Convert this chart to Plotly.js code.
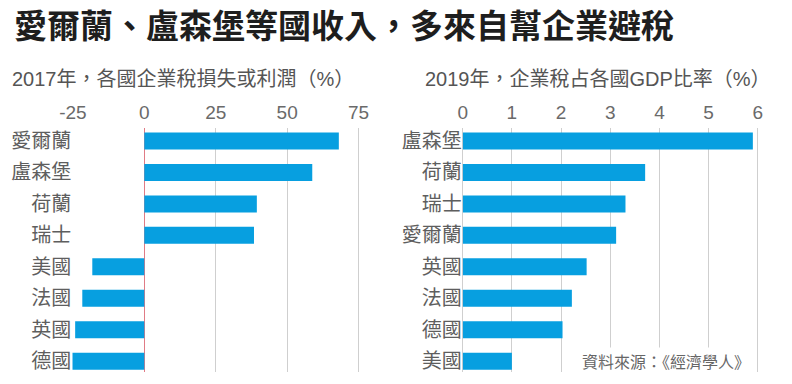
<!DOCTYPE html>
<html>
<head>
<meta charset="utf-8">
<script src="https://cdn.plot.ly/plotly-3.0.1.min.js"></script>
<style>html,body{margin:0;padding:0;background:#fff;}#chart{width:792px;height:384px;}</style>
</head>
<body>
<div id="chart"></div>
<script>
const leftCategories = ['愛爾蘭','盧森堡','荷蘭','瑞士','美國','法國','英國','德國'];
const leftValues = [68.1, 58.8, 39.4, 38.4, -18.2, -21.7, -24.2, -25.2];
const leftTicks = [-25, 0, 25, 50, 75];

const rightCategories = ['盧森堡','荷蘭','瑞士','愛爾蘭','英國','法國','德國','美國'];
const rightValues = [5.9, 3.71, 3.31, 3.12, 2.52, 2.22, 2.03, 1.0];
const rightTicks = [0, 1, 2, 3, 4, 5, 6];

const mainTitle = '愛爾蘭、盧森堡等國收入，多來自幫企業避稅';
const leftSubtitle = '2017年，各國企業稅損失或利潤（%）';
const rightSubtitle = '2019年，企業稅占各國GDP比率（%）';
const sourceNote = '資料來源：《經濟學人》';

const FONT = '"Noto Sans CJK TC", "Noto Sans", sans-serif';
const MIX = '"Liberation Sans", "Noto Sans CJK TC", sans-serif';
const BAR = '#079fe0';
const W = 792, H = 384;
const yDom = [1 - 372 / H, 1 - 128 / H];

const traces = [
  {type:'bar', orientation:'h', x:leftValues, y:leftCategories, xaxis:'x', yaxis:'y',
   marker:{color:BAR}, width:0.54, hoverinfo:'none'},
  {type:'bar', orientation:'h', x:rightValues, y:rightCategories, xaxis:'x2', yaxis:'y2',
   marker:{color:BAR}, width:0.54, hoverinfo:'none'}
];

const xCommon = {side:'top', showline:false, ticks:'', gridcolor:'#cfcfcf', gridwidth:1,
  tickfont:{family:MIX, size:19, color:'#6a6a6a'}, ticklabelstandoff:4, fixedrange:true};
const yCommon = {type:'category', showgrid:false, showline:false, ticks:'', zeroline:false,
  tickfont:{family:FONT, size:20, color:'#5e5e5e'}, domain:yDom, range:[7.34, -0.41], fixedrange:true};

const layout = {
  width:W, height:H, margin:{l:0, r:0, t:0, b:0},
  paper_bgcolor:'#fff', plot_bgcolor:'rgba(0,0,0,0)', showlegend:false,
  xaxis:Object.assign({}, xCommon, {domain:[72.3/W, 361.4/W], anchor:'y', range:[-25.2, 76],
    tickvals:leftTicks, ticktext:leftTicks.map(String), zeroline:true, zerolinecolor:'#e07b85', zerolinewidth:1.2}),
  yaxis:Object.assign({}, yCommon, {anchor:'x', categoryarray:leftCategories, categoryorder:'array'}),
  xaxis2:Object.assign({}, xCommon, {domain:[462.7/W, 761.7/W], anchor:'y2', range:[0, 6.08],
    tickvals:rightTicks, ticktext:rightTicks.map(String), zeroline:true, zerolinecolor:'#cfcfcf', zerolinewidth:1}),
  yaxis2:Object.assign({}, yCommon, {anchor:'x2', categoryarray:rightCategories, categoryorder:'array'}),
  annotations:[
    {text:'<b>'+mainTitle+'</b>', xref:'paper', yref:'paper', x:12/W, y:1-24/H, xanchor:'left', yanchor:'middle',
     showarrow:false, font:{family:FONT, size:33, color:'#1e1e1e'}},
    {text:leftSubtitle, xref:'paper', yref:'paper', x:10/W, y:1-79/H, xanchor:'left', yanchor:'middle',
     showarrow:false, font:{family:MIX, size:20, color:'#555'}},
    {text:rightSubtitle, xref:'paper', yref:'paper', x:423/W, y:1-79/H, xanchor:'left', yanchor:'middle',
     showarrow:false, font:{family:MIX, size:20, color:'#555'}},
    {text:sourceNote, xref:'paper', yref:'paper', x:752/W, y:1-361/H, xanchor:'right', yanchor:'middle',
     showarrow:false, bgcolor:'#fff', font:{family:FONT, size:16, color:'#666'}}
  ]
};

Plotly.newPlot('chart', traces, layout, {staticPlot:true, displayModeBar:false});
</script>
</body>
</html>
